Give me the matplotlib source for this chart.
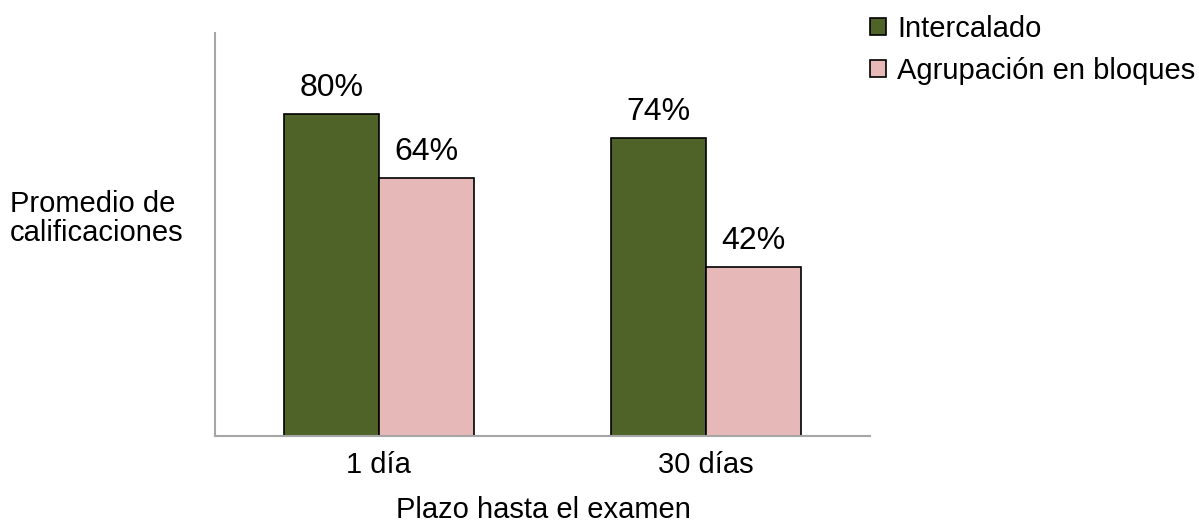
import matplotlib
matplotlib.use("Agg")
import matplotlib.pyplot as plt
import numpy as np
from matplotlib.patches import Patch

categories = ["1 día", "30 días"]
series_names = ["Intercalado", "Agrupación en bloques"]
intercalado = [80, 74]
bloques = [64, 42]
colors = ["#4F6228", "#E6B9B8"]

plt.rcParams['font.family'] = ['Liberation Sans', 'DejaVu Sans']

W, H = 1199, 525
fig = plt.figure(figsize=(W/100, H/100), dpi=100)
ax = fig.add_axes([215/W, 1-436/H, (870-215)/W, (436-33)/H])

x = np.arange(len(categories))
w = 0.29
b1 = ax.bar(x - w/2, intercalado, w, color=colors[0], edgecolor='black', linewidth=1.2)
b2 = ax.bar(x + w/2, bloques, w, color=colors[1], edgecolor='black', linewidth=1.2)
for bars, vals in ((b1, intercalado), (b2, bloques)):
    for r, v in zip(bars, vals):
        ax.annotate(f"{v}%", (r.get_x() + r.get_width()/2, v), xytext=(0, 13),
                    textcoords='offset points', ha='center', va='baseline', fontsize=23)

ax.set_xlim(-0.5, 1.5)
ax.set_ylim(0, 100)
ax.set_xticks(x)
ax.set_xticklabels(categories, fontsize=21)
for lbl in ax.get_xticklabels():
    lbl.set_va('baseline')
ax.set_yticks([])
ax.tick_params(axis='x', length=0, pad=26.5)
for s in ['top', 'right']:
    ax.spines[s].set_visible(False)
for s in ['left', 'bottom']:
    ax.spines[s].set_color('#A6A6A6')
    ax.spines[s].set_linewidth(1.5)

fig.text(543/W, 1-518/H, "Plazo hasta el examen", ha='center', va='baseline', fontsize=21)
fig.text(10/W, 1-212/H, "Promedio de", ha='left', va='baseline', fontsize=21)
fig.text(10/W, 1-241/H, "calificaciones", ha='left', va='baseline', fontsize=21)

handles = [Patch(facecolor=c, edgecolor='black', linewidth=1.2) for c in colors]
fig.legend(handles, series_names, loc='upper left', bbox_to_anchor=(870/W, 1-15/H),
           frameon=False, fontsize=21, handlelength=0.55, handleheight=0.55,
           handletextpad=0.38, labelspacing=0.47, borderaxespad=0, borderpad=0)

fig.savefig("out.png", dpi=100)
